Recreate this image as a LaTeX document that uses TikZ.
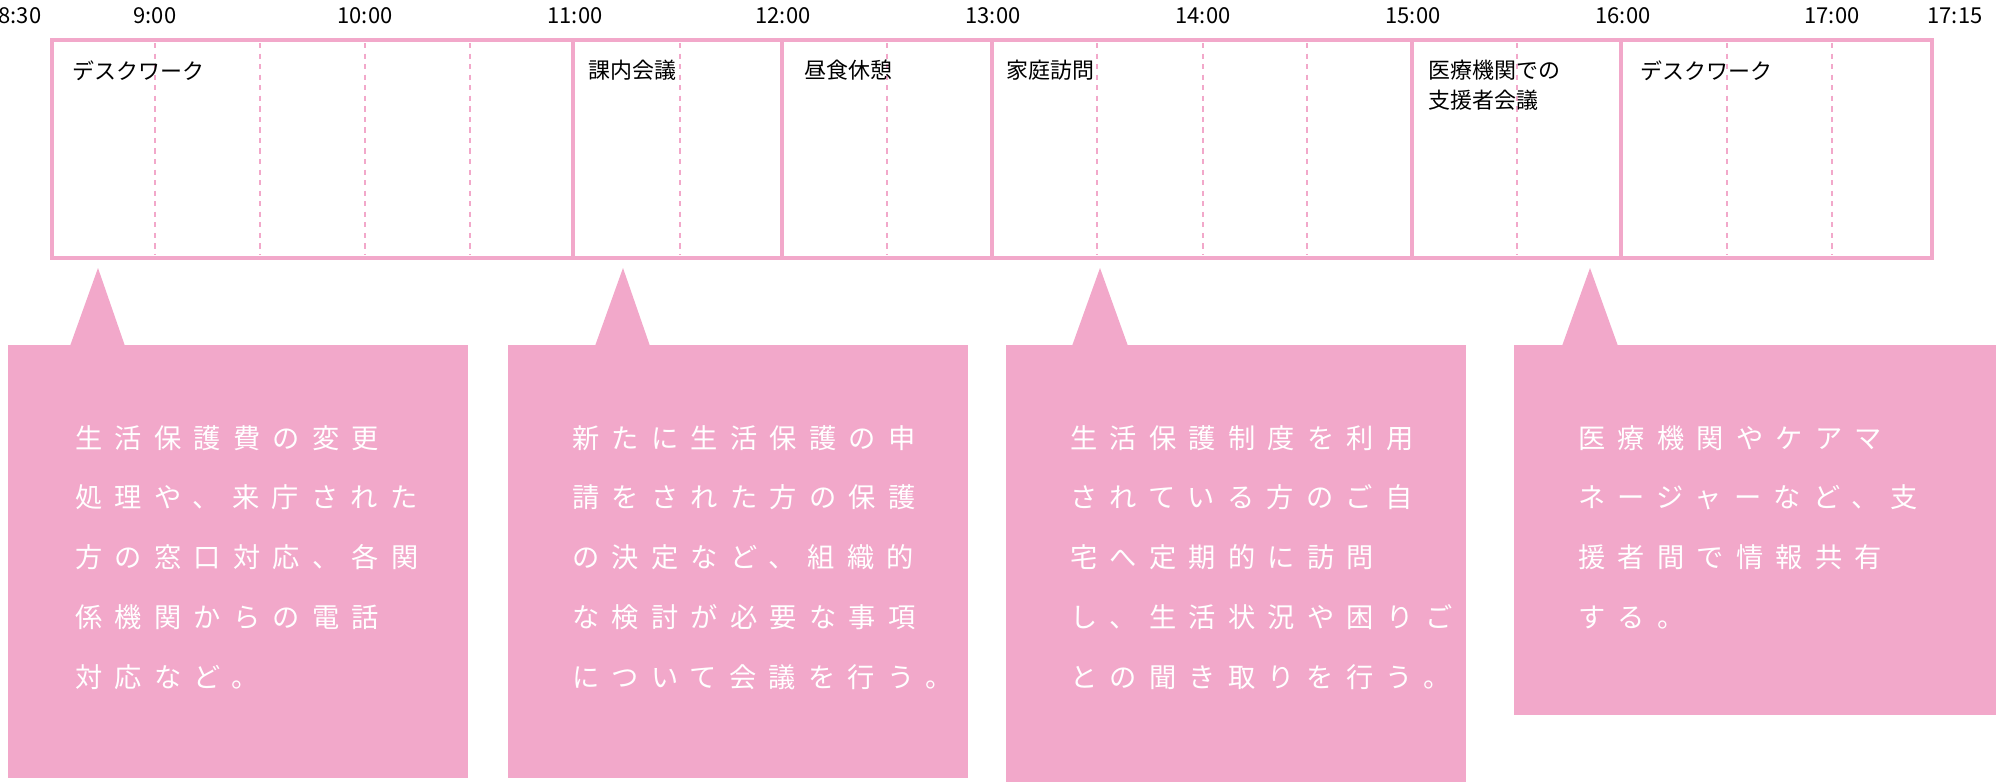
\documentclass[tikz,border=0pt]{standalone}
\usepackage{fontspec}
\setmainfont{Noto Sans CJK JP}
\usetikzlibrary{positioning}
\definecolor{sakura}{HTML}{F2A8CA}
\tikzset{
  frame/.style={draw=sakura, line width=2.6pt},
  halfhour/.style={draw=sakura, dashed, line width=0.6pt},
  slot/.style={anchor=north west, font=\fontsize{12.5}{17}\selectfont, align=left, inner sep=0pt},
  clock/.style={font=\fontsize{12.5}{14}\selectfont, inner sep=0pt},
  bubble/.style={fill=sakura, anchor=north west, inner sep=0pt},
  note/.style={anchor=north west, text=white, align=left, inner sep=0pt,
    font=\fontsize{15.5}{34}\selectfont\addfontfeature{LetterSpace=45}}
}
\begin{document}
\begin{tikzpicture}[x=0.02cm, y=-0.02cm]
\useasboundingbox (0,0) rectangle (1996,784);

% time scale
\foreach \t/\x in {8:30/20, 9:00/155, 10:00/365, 11:00/575, 12:00/783, 13:00/993, 14:00/1203, 15:00/1413, 16:00/1623, 17:00/1832, 17:15/1955}
  \node[clock] (t\x) at (\x,16) {\t};

% half hour marks
\foreach \x in {155,260,365,470,680,887,1097,1203,1307,1517,1727,1832}
  \draw[halfhour] (\x,43) -- (\x,255);

% segments
\draw[frame] (52,40) rectangle (1932,258);
\foreach \x in {573,782,992,1412,1621}
  \draw[frame] (\x,40) -- (\x,258);

\node[slot] (s1) at (72,60) {デスクワーク};
\node[slot] (s2) at (588,60) {課内会議};
\node[slot] (s3) at (804,60) {昼食休憩};
\node[slot] (s4) at (1006,60) {家庭訪問};
\node[slot] (s5) at (1428,60) {医療機関での\\支援者会議};
\node[slot] (s6) at (1640,60) {デスクワーク};

% callouts
\fill[sakura] (70,346) -- (98,268) -- (125,346) -- cycle;
\node[bubble, minimum width=460*0.02cm, minimum height=433*0.02cm] (b1) at (8,345) {};
\node[note] (n1) at (75,425) {生活保護費の変更\\処理や、来庁された\\方の窓口対応、各関\\係機関からの電話\\対応など。};

\fill[sakura] (595,346) -- (623,268) -- (650,346) -- cycle;
\node[bubble, minimum width=460*0.02cm, minimum height=433*0.02cm] (b2) at (508,345) {};
\node[note] (n2) at (572,425) {新たに生活保護の申\\請をされた方の保護\\の決定など、組織的\\な検討が必要な事項\\について会議を行う。};

\fill[sakura] (1072,346) -- (1100,268) -- (1128,346) -- cycle;
\node[bubble, minimum width=460*0.02cm, minimum height=437*0.02cm] (b3) at (1006,345) {};
\node[note] (n3) at (1070,425) {生活保護制度を利用\\されている方のご自\\宅へ定期的に訪問\\し、生活状況や困りご\\との聞き取りを行う。};

\fill[sakura] (1562,346) -- (1590,268) -- (1618,346) -- cycle;
\node[bubble, minimum width=482*0.02cm, minimum height=370*0.02cm] (b4) at (1514,345) {};
\node[note] (n4) at (1578,425) {医療機関やケアマ\\ネージャーなど、支\\援者間で情報共有\\する。};
\end{tikzpicture}
\end{document}
